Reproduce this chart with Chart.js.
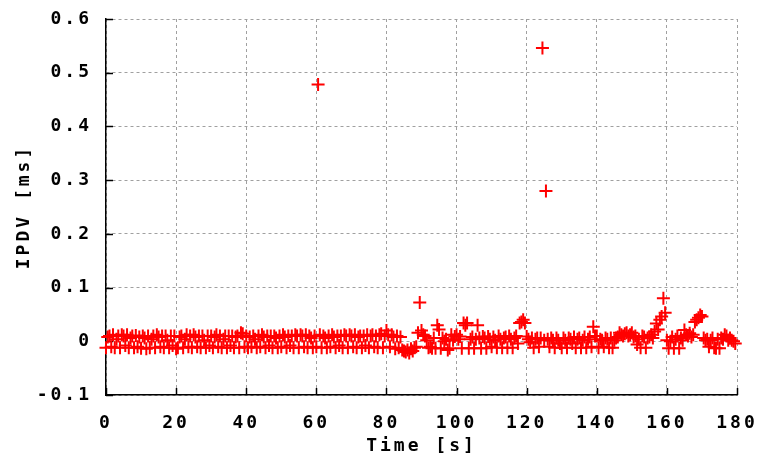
<!DOCTYPE html>
<html><head><meta charset="utf-8">
<script src="https://cdn.jsdelivr.net/npm/chart.js@4"></script>
<style>html,body{margin:0;padding:0;background:#fff}#wrap{width:765px;height:461px}</style>
</head><body><div id="wrap"><canvas id="c" width="765" height="461"></canvas></div>
<script>
const times = [
 0,0.5,1,1.5,2,2.5,3,3.5,4,4.5, 5,5.5,6,6.5,7,7.5,8,8.5,9,9.5,
 10,10.5,11,11.5,12,12.5,13,13.5,14,14.5, 15,15.5,16,16.5,17,17.5,18,18.5,19,19.5,
 20,20.5,21,21.5,22,22.5,23,23.5,24,24.5, 25,25.5,26,26.5,27,27.5,28,28.5,29,29.5,
 30,30.5,31,31.5,32,32.5,33,33.5,34,34.5, 35,35.5,36,36.5,37,37.5,38,38.5,39,39.5,
 40,40.5,41,41.5,42,42.5,43,43.5,44,44.5, 45,45.5,46,46.5,47,47.5,48,48.5,49,49.5,
 50,50.5,51,51.5,52,52.5,53,53.5,54,54.5, 55,55.5,56,56.5,57,57.5,58,58.5,59,59.5,
 60,60.5,61,61.5,62,62.5,63,63.5,64,64.5, 65,65.5,66,66.5,67,67.5,68,68.5,69,69.5,
 70,70.5,71,71.5,72,72.5,73,73.5,74,74.5, 75,75.5,76,76.5,77,77.5,78,78.5,79,79.5,
 80,80.5,81,81.5,82,82.5,83,83.5,84,84.5, 85,85.5,86,86.5,87,87.5,88,88.5,89,89.5,
 90,90.5,91,91.5,92,92.5,93,93.5,94,94.5, 95,95.5,96,96.5,97,97.5,98,98.5,99,99.5,
 100,100.5,101,101.5,102,102.5,103,103.5,104,104.5, 105,105.5,106,106.5,107,107.5,108,108.5,109,109.5,
 110,110.5,111,111.5,112,112.5,113,113.5,114,114.5, 115,115.5,116,116.5,117,117.5,118,118.5,119,119.5,
 120,120.5,121,121.5,122,122.5,123,123.5,124,124.5, 125,125.5,126,126.5,127,127.5,128,128.5,129,129.5,
 130,130.5,131,131.5,132,132.5,133,133.5,134,134.5, 135,135.5,136,136.5,137,137.5,138,138.5,139,139.5,
 140,140.5,141,141.5,142,142.5,143,143.5,144,144.5, 145,145.5,146,146.5,147,147.5,148,148.5,149,149.5,
 150,150.5,151,151.5,152,152.5,153,153.5,154,154.5, 155,155.5,156,156.5,157,157.5,158,158.5,159,159.5,
 160,160.5,161,161.5,162,162.5,163,163.5,164,164.5, 165,165.5,166,166.5,167,167.5,168,168.5,169,169.5,
 170,170.5,171,171.5,172,172.5,173,173.5,174,174.5, 175,175.5,176,176.5,177,177.5,178,178.5,179,179.5
];
const ipdv = [
 -0.012,0.008,0.010,-0.010,0.012,-0.012,0.004,0.010,-0.012,0.012, 0.010,-0.008,0.012,-0.012,0.006,0.010,-0.012,0.011,-0.010,0.008,
 -0.013,0.010,0.006,-0.014,0.010,-0.012,0.004,0.010,-0.012,0.012, 0.008,-0.010,0.010,-0.012,0.010,0.002,-0.012,0.010,-0.008,0.010,
 -0.014,-0.012,0.008,0.010,-0.012,0.004,0.012,-0.010,0.010,-0.012, 0.012,0.008,-0.010,0.010,-0.012,0.010,0.002,-0.012,0.010,-0.008,
 0.010,-0.012,0.008,0.012,-0.010,0.010,-0.012,0.004,0.010,-0.012, 0.010,-0.008,0.010,-0.012,0.008,0.010,-0.012,0.016,0.014,-0.010,
 0.010,-0.012,0.008,-0.010,0.010,0.004,-0.012,0.010,-0.010,0.012, 0.008,-0.012,0.010,-0.008,0.010,-0.012,0.010,0.006,-0.012,0.010,
 -0.010,0.012,0.008,-0.012,0.010,-0.008,0.010,-0.012,0.012,0.010, -0.012,0.012,0.010,-0.010,0.012,-0.012,0.010,0.006,-0.012,0.010,
 -0.010,0.478,0.012,-0.012,0.010,0.006,-0.012,0.010,-0.010,0.012, 0.008,-0.012,0.010,-0.008,0.010,-0.012,0.012,0.010,-0.012,0.012,
 0.010,-0.010,0.012,-0.012,0.008,0.010,-0.012,0.010,-0.008,0.012, -0.012,0.010,0.012,-0.010,0.010,-0.012,0.012,0.014,-0.012,0.010,
 0.020,0.012,-0.010,0.012,0.008,-0.014,0.010,-0.012,0.008,-0.016, -0.018,-0.020,-0.016,-0.022,-0.014,-0.018,-0.012,-0.010,0.016,0.072,
 0.020,0.012,0.010,0.002,-0.012,-0.010,-0.013,0.006,-0.013,0.030, 0.022,-0.013,0.006,0.000,0.004,-0.016,-0.013,0.012,0.002,0.009,
 0.012,0.004,0.009,-0.013,0.034,0.030,0.034,-0.013,0.004,0.008, -0.013,0.004,0.030,0.006,-0.013,0.009,0.006,-0.013,0.009,0.004,
 -0.010,0.008,0.002,-0.012,0.010,0.004,-0.012,0.006,0.008,-0.012, 0.010,0.004,-0.012,0.006,0.010,-0.004,0.034,0.036,0.040,0.034,
 0.009,0.004,-0.002,0.006,-0.012,0.004,0.006,-0.010,0.006,0.546, 0.002,0.280,0.004,-0.010,0.006,0.002,-0.012,0.006,0.002,-0.004,
 -0.012,0.006,0.002,-0.012,0.006,0.004,-0.004,0.008,-0.012,0.004, 0.006,-0.012,0.002,0.008,-0.012,0.004,0.008,-0.010,0.027,0.010,
 0.010,-0.012,0.004,0.002,-0.010,0.006,0.004,-0.012,0.006,-0.012, 0.002,0.006,0.008,0.016,0.012,0.010,0.014,0.016,0.010,0.012,
 0.016,0.008,0.010,-0.006,0.004,-0.012,0.010,0.008,-0.012,0.006, 0.008,0.012,0.006,0.018,0.033,0.022,0.040,0.046,0.080,0.053,
 0.002,-0.013,0.000,0.008,-0.013,0.004,0.010,-0.013,0.006,0.002, 0.021,0.012,0.010,0.015,0.008,0.012,0.036,0.040,0.044,0.049,
 0.046,0.006,0.002,0.004,-0.010,0.002,0.006,-0.012,-0.013,0.004, -0.013,0.006,0.004,0.012,0.010,0.002,0.006,0.002,0.000,-0.004
];
const xTickLabels = ['0','20','40','60','80','100','120','140','160','180'];
const yTickLabels = ['-0.1','0','0.1','0.2','0.3','0.4','0.5','0.6'];
const xTitle = 'Time [s]';
const yTitle = 'IPDV [ms]';

const points = times.map((t,i)=>({x:t,y:ipdv[i]}));
const xTickVals = xTickLabels.map(Number);
const yTickVals = yTickLabels.map(Number);
const FONT = {family:"'DejaVu Sans Mono', monospace", size:18, weight:'bold'};

const spacingPlugin = {
  id:'spacing',
  beforeUpdate(chart){ chart.ctx.letterSpacing='3px'; },
  beforeDraw(chart){ chart.ctx.letterSpacing='3px'; }
};
const ticksPlugin = {
  id:'inticks',
  beforeDatasetsDraw(chart){
    const {ctx, chartArea:{left,right,top,bottom}, scales:{x,y}} = chart;
    ctx.save();
    ctx.strokeStyle='#000'; ctx.lineWidth=1.5; ctx.setLineDash([]);
    xTickVals.forEach(v=>{const px=Math.round(x.getPixelForValue(v))+0.5;
      ctx.beginPath(); ctx.moveTo(px,bottom); ctx.lineTo(px,bottom-7); ctx.stroke();});
    yTickVals.forEach(v=>{const py=Math.round(y.getPixelForValue(v))+0.5;
      ctx.beginPath(); ctx.moveTo(left,py); ctx.lineTo(left+7,py); ctx.stroke();});
    ctx.restore();
  }
};

new Chart(document.getElementById('c'), {
  type:'scatter',
  data:{datasets:[{
    data:points,
    pointStyle:'cross',
    pointRadius:6.5,
    pointHoverRadius:6.5,
    borderColor:'#ff0000',
    backgroundColor:'#ff0000',
    pointBorderWidth:2,
    clip:false
  }]},
  options:{
    responsive:false,
    animation:false,
    devicePixelRatio:1,
    layout:{padding:{top:19,right:28,left:0,bottom:0}},
    plugins:{legend:{display:false},tooltip:{enabled:false}},
    scales:{
      x:{
        type:'linear', min:0, max:180,
        afterFit(s){ s.height=66; s.paddingLeft=0; s.paddingRight=0; },
        afterBuildTicks(s){ s.ticks = xTickVals.map(v=>({value:v})); },
        ticks:{padding:18, color:'#000', font:FONT, maxRotation:0,
          callback:(v,i)=>xTickLabels[i]},
        grid:{color:'#a0a0a0', lineWidth:1, drawTicks:false},
        border:{display:true, color:'#000', width:1.5, dash:[3,3]},
        title:{display:true, text:xTitle, color:'#000', font:FONT, padding:{top:0,bottom:4}}
      },
      y:{
        type:'linear', min:-0.1, max:0.6,
        afterFit(s){ s.width=106; s.paddingTop=0; s.paddingBottom=0; },
        afterBuildTicks(s){ s.ticks = yTickVals.map(v=>({value:v})); },
        ticks:{padding:14, color:'#000', font:FONT,
          callback:(v,i)=>yTickLabels[i]},
        grid:{color:'#a0a0a0', lineWidth:1, drawTicks:false},
        border:{display:true, color:'#000', width:1.5, dash:[3,3]},
        title:{display:true, text:yTitle, color:'#000', font:FONT, padding:{top:14,bottom:0}}
      }
    }
  },
  plugins:[spacingPlugin, ticksPlugin]
});
</script>
</body></html>
